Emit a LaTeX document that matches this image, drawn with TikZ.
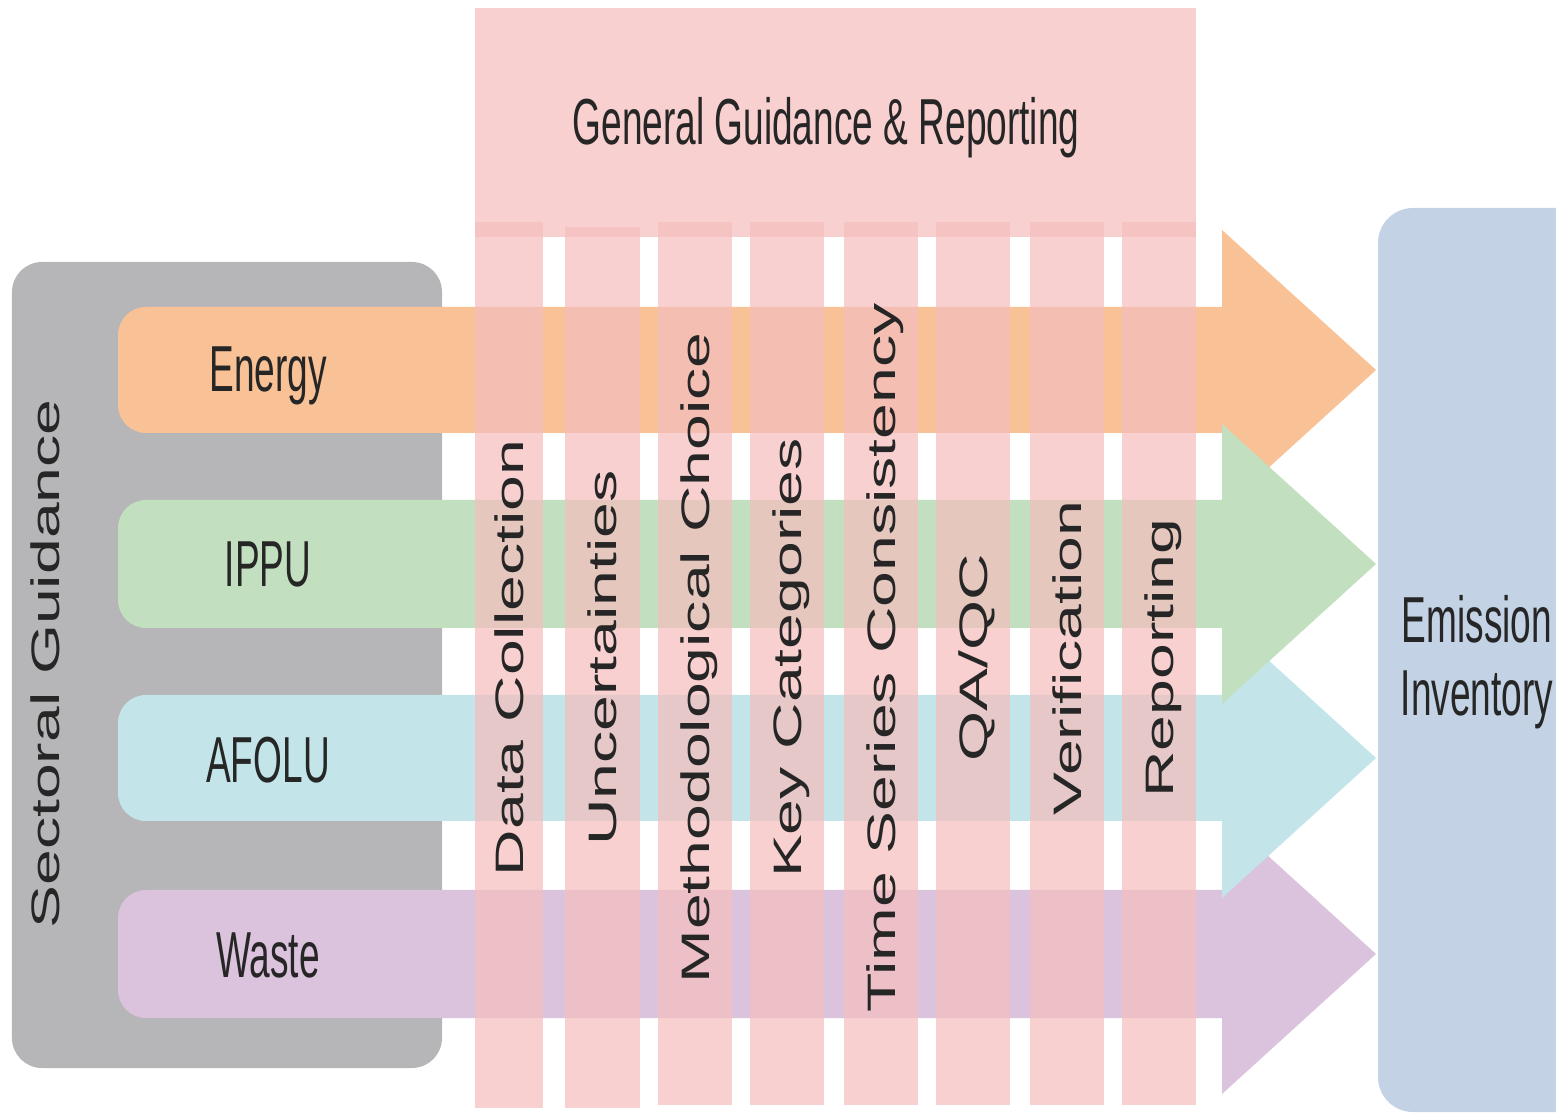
\documentclass[tikz,border=0pt]{standalone}
\usepackage{fontspec}
\setmainfont{Liberation Sans}
\newfontfamily\narrowsans[FakeStretch=0.57]{Liberation Sans}
\newfontfamily\widesans[FakeStretch=1.62]{Liberation Sans}
\usetikzlibrary{positioning}

\definecolor{sectorgray}{HTML}{B6B6B8}
\definecolor{energyfill}{HTML}{F8C196}
\definecolor{ippufill}{HTML}{C2E0C0}
\definecolor{afolufill}{HTML}{C3E5E9}
\definecolor{wastefill}{HTML}{DBC2DD}
\definecolor{guidepink}{HTML}{F5BEBE}
\definecolor{emisblue}{HTML}{C4D2E5}
\definecolor{labeltext}{HTML}{262626}

\begin{document}
\begin{tikzpicture}[
    every node/.style={inner sep=0pt, text=labeltext},
    sector/.style={font=\narrowsans\fontsize{18.5pt}{20.8pt}\selectfont, text height=0.465cm, text depth=0pt},
    stage/.style={font=\widesans\fontsize{11.3pt}{13pt}\selectfont, rotate=90, text height=0.28cm, text depth=0pt},
    guide/.style={fill=guidepink, fill opacity=0.72}
]
    \useasboundingbox (0,0) rectangle (15.56,11.17);
    \clip (0,0) rectangle (15.56,11.17);

    % sectoral frame
    \fill[sectorgray, rounded corners=0.3cm] (0.12,0.49) rectangle (4.42,8.55);

    % sector arrows
    \fill[wastefill] (12.22,2.27) -- (1.46,2.27) arc[start angle=90, end angle=180, radius=0.28]
        -- (1.18,1.27) arc[start angle=180, end angle=270, radius=0.28]
        -- (12.22,0.99) -- (12.22,0.23) -- (13.76,1.63) -- (12.22,3.03) -- cycle;
    \fill[afolufill] (12.22,4.22) -- (1.46,4.22) arc[start angle=90, end angle=180, radius=0.28]
        -- (1.18,3.24) arc[start angle=180, end angle=270, radius=0.28]
        -- (12.22,2.96) -- (12.22,2.19) -- (13.76,3.59) -- (12.22,4.99) -- cycle;
    \fill[energyfill] (12.22,8.10) -- (1.46,8.10) arc[start angle=90, end angle=180, radius=0.28]
        -- (1.18,7.12) arc[start angle=180, end angle=270, radius=0.28]
        -- (12.22,6.84) -- (12.22,6.07) -- (13.76,7.47) -- (12.22,8.87) -- cycle;
    \fill[ippufill] (12.22,6.17) -- (1.46,6.17) arc[start angle=90, end angle=180, radius=0.28]
        -- (1.18,5.17) arc[start angle=180, end angle=270, radius=0.28]
        -- (12.22,4.89) -- (12.22,4.13) -- (13.76,5.53) -- (12.22,6.93) -- cycle;

    % general guidance box and its columns
    \fill[guide] (4.75,8.80) rectangle (11.96,11.09);
    \fill[guide] (4.75,0.09) rectangle (5.43,8.95);
    \fill[guide] (5.65,0.09) rectangle (6.40,8.90);
    \fill[guide] (6.58,0.12) rectangle (7.32,8.95);
    \fill[guide] (7.50,0.12) rectangle (8.24,8.95);
    \fill[guide] (8.44,0.12) rectangle (9.18,8.95);
    \fill[guide] (9.36,0.12) rectangle (10.10,8.95);
    \fill[guide] (10.30,0.12) rectangle (11.04,8.95);
    \fill[guide] (11.22,0.12) rectangle (11.96,8.95);

    % emission inventory
    \fill[emisblue, rounded corners=0.35cm] (13.78,0.05) rectangle (16.20,9.09);

    \node (sectoral) [stage] at (0.45,4.53) {Sectoral Guidance};
    \node (energy) [sector] at (2.68,7.49) {Energy};
    \node (ippu) [sector, below=1.475cm of energy] {IPPU};
    \node (afolu) [sector, below=1.475cm of ippu] {AFOLU};
    \node (waste) [sector, below=1.475cm of afolu] {Waste};

    \node (general) [sector] at (8.26,9.96) {General Guidance \& Reporting};

    \node (datacoll) [stage] at (5.09,4.59) {Data Collection};
    \node (uncert) [stage] at (6.025,4.59) {Uncertainties};
    \node (method) [stage] at (6.95,4.59) {Methodological Choice};
    \node (keycat) [stage] at (7.87,4.59) {Key Categories};
    \node (timeser) [stage] at (8.81,4.59) {Time Series Consistency};
    \node (qaqc) [stage] at (9.73,4.59) {QA/QC};
    \node (verif) [stage] at (10.67,4.59) {Verification};
    \node (report) [stage] at (11.59,4.59) {Reporting};

    \node (emission) [font=\narrowsans\fontsize{18.5pt}{20.8pt}\selectfont, align=center] at (14.77,4.55) {Emission\\Inventory};
\end{tikzpicture}
\end{document}
